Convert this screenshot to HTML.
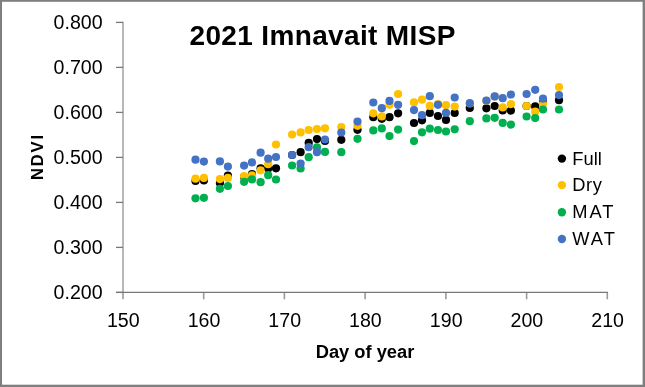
<!DOCTYPE html>
<html><head><meta charset="utf-8"><style>
html,body{margin:0;padding:0;background:#fff;}
body{width:645px;height:387px;overflow:hidden;position:relative;}
svg{position:absolute;left:0;top:0;will-change:transform;}
text{font-family:"Liberation Sans",sans-serif;fill:#000;}
</style></head><body>
<svg width="645" height="387" viewBox="0 0 645 387">
<rect x="0" y="0" width="645" height="387" fill="#fff"/>
<rect x="0" y="0" width="645" height="1.8" fill="#7f7f7f"/>
<rect x="0" y="0" width="2" height="387" fill="#7f7f7f"/>
<rect x="642.6" y="0" width="2.4" height="387" fill="#7f7f7f"/>
<rect x="0" y="384.7" width="645" height="2.3" fill="#7f7f7f"/>
<text x="189.5" y="44.8" font-size="28" font-weight="bold" letter-spacing="0.35">2021 Imnavait MISP</text>
<line x1="123" y1="21.799999999999997" x2="123" y2="292.4" stroke="#b8b8b8" stroke-width="2"/>
<g stroke="#777" stroke-width="1.3"><line x1="116" y1="292.4" x2="123" y2="292.4"/><line x1="116" y1="247.4" x2="123" y2="247.4"/><line x1="116" y1="202.4" x2="123" y2="202.4"/><line x1="116" y1="157.4" x2="123" y2="157.4"/><line x1="116" y1="112.4" x2="123" y2="112.4"/><line x1="116" y1="67.4" x2="123" y2="67.4"/><line x1="116" y1="22.4" x2="123" y2="22.4"/></g>
<g stroke="#9a9a9a" stroke-width="1.6"><line x1="123.0" y1="292.4" x2="123.0" y2="299.3"/><line x1="203.7" y1="292.4" x2="203.7" y2="299.3"/><line x1="284.4" y1="292.4" x2="284.4" y2="299.3"/><line x1="365.1" y1="292.4" x2="365.1" y2="299.3"/><line x1="445.9" y1="292.4" x2="445.9" y2="299.3"/><line x1="526.6" y1="292.4" x2="526.6" y2="299.3"/><line x1="607.3" y1="292.4" x2="607.3" y2="299.3"/></g>
<line x1="116" y1="292.4" x2="608" y2="292.4" stroke="#777" stroke-width="1.3"/>
<g font-size="19.6"><text x="102.6" y="298.7" text-anchor="end">0.200</text><text x="102.6" y="253.7" text-anchor="end">0.300</text><text x="102.6" y="208.7" text-anchor="end">0.400</text><text x="102.6" y="163.7" text-anchor="end">0.500</text><text x="102.6" y="118.7" text-anchor="end">0.600</text><text x="102.6" y="73.7" text-anchor="end">0.700</text><text x="102.6" y="28.7" text-anchor="end">0.800</text><text x="123.3" y="326.7" text-anchor="middle">150</text><text x="204.0" y="326.7" text-anchor="middle">160</text><text x="284.7" y="326.7" text-anchor="middle">170</text><text x="365.4" y="326.7" text-anchor="middle">180</text><text x="446.2" y="326.7" text-anchor="middle">190</text><text x="526.9" y="326.7" text-anchor="middle">200</text><text x="607.6" y="326.7" text-anchor="middle">210</text></g>
<text transform="translate(42.9,156.6) rotate(-90)" text-anchor="middle" font-size="16.6" font-weight="bold" letter-spacing="1.8">NDVI</text>
<text x="365" y="358.3" text-anchor="middle" font-size="18.3" font-weight="bold">Day of year</text>
<g font-size="18.3"><circle cx="561.9" cy="158.6" r="4.2" fill="#000000"/><text x="572.3" y="164.8" letter-spacing="0.05">Full</text><circle cx="561.9" cy="185.1" r="4.2" fill="#FFC000"/><text x="572.3" y="191.3" letter-spacing="0.6">Dry</text><circle cx="561.9" cy="212.3" r="4.2" fill="#00B050"/><text x="572.3" y="218.1" letter-spacing="2.0">MAT</text><circle cx="561.9" cy="239" r="4.2" fill="#4472C4"/><text x="572.3" y="245.3" letter-spacing="2.0">WAT</text></g>
<g>
<circle cx="195.5" cy="181" r="4.1" fill="#000000"/><circle cx="203.9" cy="180.5" r="4.1" fill="#000000"/><circle cx="219.9" cy="183" r="4.1" fill="#000000"/><circle cx="227.9" cy="175.5" r="4.1" fill="#000000"/><circle cx="244.1" cy="177" r="4.1" fill="#000000"/><circle cx="252" cy="174" r="4.1" fill="#000000"/><circle cx="260.6" cy="168.3" r="4.1" fill="#000000"/><circle cx="268.2" cy="168.5" r="4.1" fill="#000000"/><circle cx="276" cy="168.3" r="4.1" fill="#000000"/><circle cx="292.1" cy="155" r="4.1" fill="#000000"/><circle cx="300.6" cy="152.2" r="4.1" fill="#000000"/><circle cx="308.7" cy="142.9" r="4.1" fill="#000000"/><circle cx="317" cy="139.1" r="4.1" fill="#000000"/><circle cx="325" cy="141" r="4.1" fill="#000000"/><circle cx="341.3" cy="139.8" r="4.1" fill="#000000"/><circle cx="357.5" cy="129.8" r="4.1" fill="#000000"/><circle cx="373.3" cy="117.2" r="4.1" fill="#000000"/><circle cx="381.8" cy="118.8" r="4.1" fill="#000000"/><circle cx="389.5" cy="117.2" r="4.1" fill="#000000"/><circle cx="398.1" cy="113.3" r="4.1" fill="#000000"/><circle cx="414" cy="123" r="4.1" fill="#000000"/><circle cx="422" cy="120.3" r="4.1" fill="#000000"/><circle cx="429.8" cy="112.9" r="4.1" fill="#000000"/><circle cx="438" cy="116" r="4.1" fill="#000000"/><circle cx="446" cy="119.9" r="4.1" fill="#000000"/><circle cx="454.7" cy="113" r="4.1" fill="#000000"/><circle cx="469.8" cy="107.9" r="4.1" fill="#000000"/><circle cx="486.4" cy="108.3" r="4.1" fill="#000000"/><circle cx="494.7" cy="106" r="4.1" fill="#000000"/><circle cx="502.7" cy="110.5" r="4.1" fill="#000000"/><circle cx="510.9" cy="110.6" r="4.1" fill="#000000"/><circle cx="526.6" cy="106" r="4.1" fill="#000000"/><circle cx="535.2" cy="106.4" r="4.1" fill="#000000"/><circle cx="543" cy="102" r="4.1" fill="#000000"/><circle cx="559" cy="100.2" r="4.1" fill="#000000"/>
<circle cx="195.5" cy="178.7" r="4.1" fill="#FFC000"/><circle cx="203.9" cy="177.9" r="4.1" fill="#FFC000"/><circle cx="219.9" cy="179.1" r="4.1" fill="#FFC000"/><circle cx="227.9" cy="177.9" r="4.1" fill="#FFC000"/><circle cx="244.1" cy="176.2" r="4.1" fill="#FFC000"/><circle cx="252" cy="175.4" r="4.1" fill="#FFC000"/><circle cx="260.6" cy="170.3" r="4.1" fill="#FFC000"/><circle cx="268.2" cy="164.2" r="4.1" fill="#FFC000"/><circle cx="276" cy="144.5" r="4.1" fill="#FFC000"/><circle cx="292.1" cy="134.5" r="4.1" fill="#FFC000"/><circle cx="300.6" cy="132.4" r="4.1" fill="#FFC000"/><circle cx="308.7" cy="130" r="4.1" fill="#FFC000"/><circle cx="317" cy="129" r="4.1" fill="#FFC000"/><circle cx="325" cy="128.3" r="4.1" fill="#FFC000"/><circle cx="341.3" cy="127" r="4.1" fill="#FFC000"/><circle cx="357.5" cy="125.8" r="4.1" fill="#FFC000"/><circle cx="373.3" cy="113.3" r="4.1" fill="#FFC000"/><circle cx="381.8" cy="116.4" r="4.1" fill="#FFC000"/><circle cx="389.5" cy="104.8" r="4.1" fill="#FFC000"/><circle cx="398.1" cy="94" r="4.1" fill="#FFC000"/><circle cx="414" cy="102.4" r="4.1" fill="#FFC000"/><circle cx="422" cy="99.7" r="4.1" fill="#FFC000"/><circle cx="429.8" cy="105.9" r="4.1" fill="#FFC000"/><circle cx="438" cy="104" r="4.1" fill="#FFC000"/><circle cx="446" cy="105.2" r="4.1" fill="#FFC000"/><circle cx="454.7" cy="106.6" r="4.1" fill="#FFC000"/><circle cx="469.8" cy="103.5" r="4.1" fill="#FFC000"/><circle cx="486.4" cy="100.8" r="4.1" fill="#FFC000"/><circle cx="494.7" cy="96.6" r="4.1" fill="#FFC000"/><circle cx="502.7" cy="107.4" r="4.1" fill="#FFC000"/><circle cx="510.9" cy="104.1" r="4.1" fill="#FFC000"/><circle cx="526.6" cy="106" r="4.1" fill="#FFC000"/><circle cx="535.2" cy="111.7" r="4.1" fill="#FFC000"/><circle cx="543" cy="104" r="4.1" fill="#FFC000"/><circle cx="559" cy="87" r="4.1" fill="#FFC000"/>
<circle cx="195.5" cy="198.3" r="4.1" fill="#00B050"/><circle cx="203.9" cy="197.8" r="4.1" fill="#00B050"/><circle cx="219.9" cy="188.8" r="4.1" fill="#00B050"/><circle cx="227.9" cy="186" r="4.1" fill="#00B050"/><circle cx="244.1" cy="181.8" r="4.1" fill="#00B050"/><circle cx="252" cy="179.4" r="4.1" fill="#00B050"/><circle cx="260.6" cy="182.2" r="4.1" fill="#00B050"/><circle cx="268.2" cy="175.2" r="4.1" fill="#00B050"/><circle cx="276" cy="179.5" r="4.1" fill="#00B050"/><circle cx="292.1" cy="165.5" r="4.1" fill="#00B050"/><circle cx="300.6" cy="168.5" r="4.1" fill="#00B050"/><circle cx="308.7" cy="157.2" r="4.1" fill="#00B050"/><circle cx="317" cy="147.4" r="4.1" fill="#00B050"/><circle cx="325" cy="151.9" r="4.1" fill="#00B050"/><circle cx="341.3" cy="152.2" r="4.1" fill="#00B050"/><circle cx="357.5" cy="138.8" r="4.1" fill="#00B050"/><circle cx="373.3" cy="130.4" r="4.1" fill="#00B050"/><circle cx="381.8" cy="128.4" r="4.1" fill="#00B050"/><circle cx="389.5" cy="136.1" r="4.1" fill="#00B050"/><circle cx="398.1" cy="129.6" r="4.1" fill="#00B050"/><circle cx="414" cy="141.1" r="4.1" fill="#00B050"/><circle cx="422" cy="132.3" r="4.1" fill="#00B050"/><circle cx="429.8" cy="128.7" r="4.1" fill="#00B050"/><circle cx="438" cy="130" r="4.1" fill="#00B050"/><circle cx="446" cy="131.5" r="4.1" fill="#00B050"/><circle cx="454.7" cy="129.3" r="4.1" fill="#00B050"/><circle cx="469.8" cy="121.2" r="4.1" fill="#00B050"/><circle cx="486.4" cy="118.4" r="4.1" fill="#00B050"/><circle cx="494.7" cy="117.8" r="4.1" fill="#00B050"/><circle cx="502.7" cy="122.9" r="4.1" fill="#00B050"/><circle cx="510.9" cy="124.6" r="4.1" fill="#00B050"/><circle cx="526.6" cy="116.5" r="4.1" fill="#00B050"/><circle cx="535.2" cy="118.1" r="4.1" fill="#00B050"/><circle cx="543" cy="109.5" r="4.1" fill="#00B050"/><circle cx="559" cy="109.5" r="4.1" fill="#00B050"/>
<circle cx="195.5" cy="159.7" r="4.1" fill="#4472C4"/><circle cx="203.9" cy="161.6" r="4.1" fill="#4472C4"/><circle cx="219.9" cy="161.4" r="4.1" fill="#4472C4"/><circle cx="227.9" cy="166.6" r="4.1" fill="#4472C4"/><circle cx="244.1" cy="165.6" r="4.1" fill="#4472C4"/><circle cx="252" cy="162.4" r="4.1" fill="#4472C4"/><circle cx="260.6" cy="152.7" r="4.1" fill="#4472C4"/><circle cx="268.2" cy="158.7" r="4.1" fill="#4472C4"/><circle cx="276" cy="157" r="4.1" fill="#4472C4"/><circle cx="292.1" cy="155" r="4.1" fill="#4472C4"/><circle cx="300.6" cy="163.5" r="4.1" fill="#4472C4"/><circle cx="308.7" cy="147.2" r="4.1" fill="#4472C4"/><circle cx="317" cy="152.2" r="4.1" fill="#4472C4"/><circle cx="325" cy="139.5" r="4.1" fill="#4472C4"/><circle cx="341.3" cy="132.5" r="4.1" fill="#4472C4"/><circle cx="357.5" cy="121.6" r="4.1" fill="#4472C4"/><circle cx="373.3" cy="102.5" r="4.1" fill="#4472C4"/><circle cx="381.8" cy="108.2" r="4.1" fill="#4472C4"/><circle cx="389.5" cy="100.9" r="4.1" fill="#4472C4"/><circle cx="398.1" cy="104.8" r="4.1" fill="#4472C4"/><circle cx="414" cy="110.1" r="4.1" fill="#4472C4"/><circle cx="422" cy="115.2" r="4.1" fill="#4472C4"/><circle cx="429.8" cy="96.2" r="4.1" fill="#4472C4"/><circle cx="438" cy="104.8" r="4.1" fill="#4472C4"/><circle cx="446" cy="112.9" r="4.1" fill="#4472C4"/><circle cx="454.7" cy="97.5" r="4.1" fill="#4472C4"/><circle cx="469.8" cy="103.2" r="4.1" fill="#4472C4"/><circle cx="486.4" cy="100.6" r="4.1" fill="#4472C4"/><circle cx="494.7" cy="96.4" r="4.1" fill="#4472C4"/><circle cx="502.7" cy="98.2" r="4.1" fill="#4472C4"/><circle cx="510.9" cy="94.5" r="4.1" fill="#4472C4"/><circle cx="526.6" cy="94" r="4.1" fill="#4472C4"/><circle cx="535.2" cy="89.8" r="4.1" fill="#4472C4"/><circle cx="543" cy="98.7" r="4.1" fill="#4472C4"/><circle cx="559" cy="95.1" r="4.1" fill="#4472C4"/>
</g>
</svg>
</body></html>
